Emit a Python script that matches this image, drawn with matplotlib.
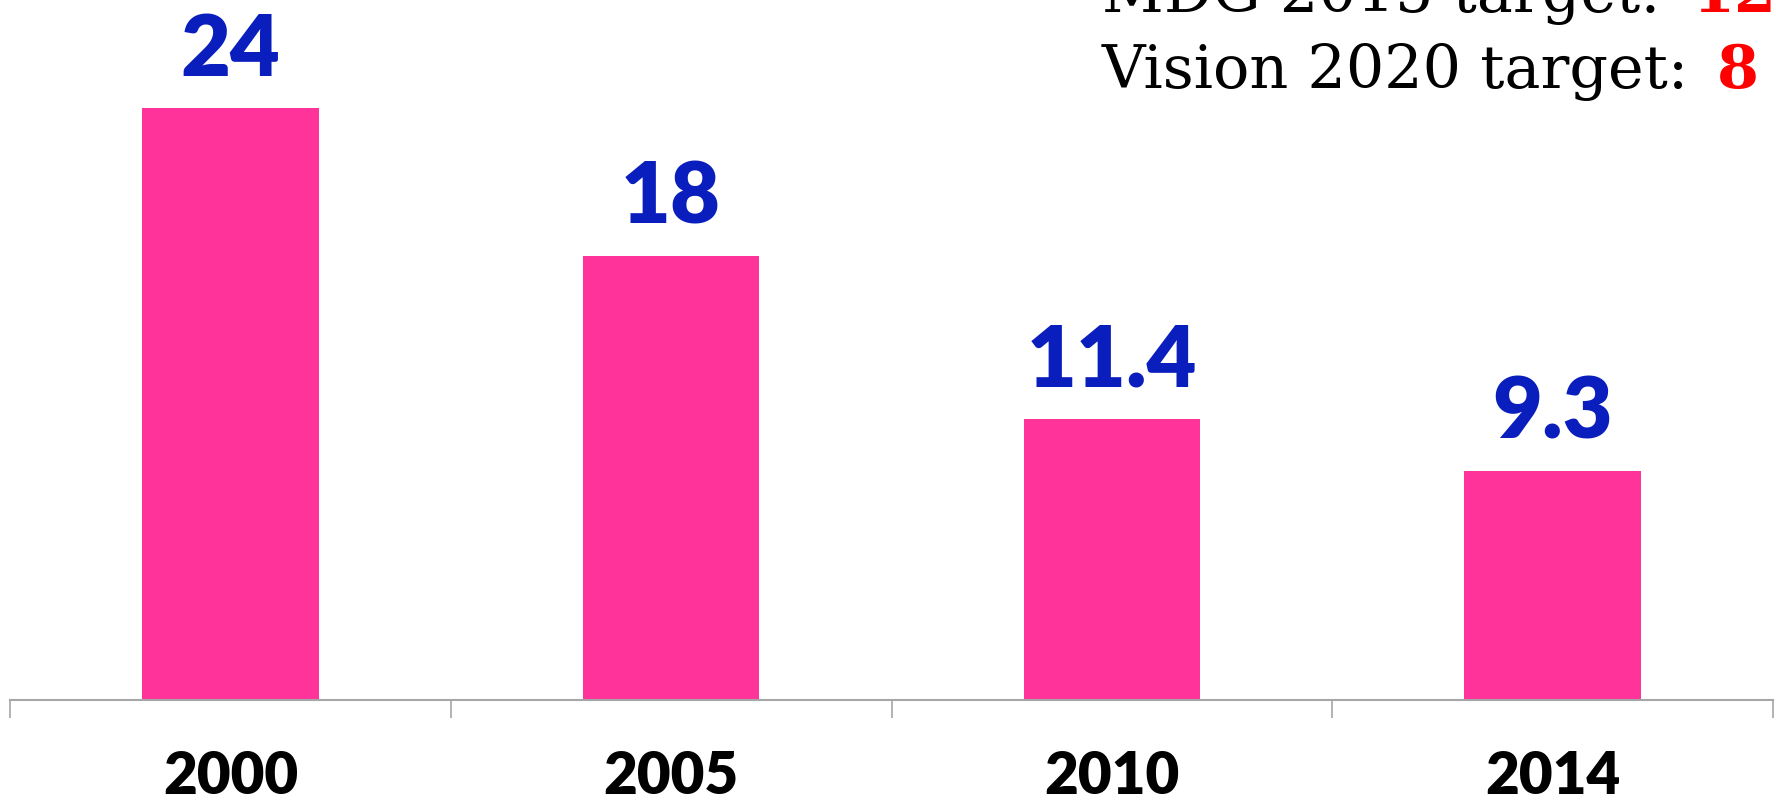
import matplotlib
matplotlib.use("Agg")
import matplotlib.pyplot as plt
from matplotlib.transforms import blended_transform_factory

# values
years = ['2000', '2005', '2010', '2014']
values = [24, 18, 11.4, 9.3]
value_labels = ['24', '18', '11.4', '9.3']
mdg_target = '12.5'
vision_target = '8'

W, H = 1776, 801
fig = plt.figure(figsize=(W / 100, H / 100), dpi=100)
# axis line sits ~700px from the top, plot area runs to the top edge
ax = fig.add_axes([10 / W, (H - 700) / H, (1773 - 10) / W, 700 / H])

x = range(len(years))
ax.bar(x, values, width=0.4, color='#FF3399', zorder=2)
ax.set_xlim(-0.5, len(years) - 0.5)
ax.set_ylim(0, 28.37)

for s in ['top', 'right', 'left']:
    ax.spines[s].set_visible(False)
ax.spines['bottom'].set_color('#A6A6A6')
ax.spines['bottom'].set_linewidth(1.5)
ax.set_yticks([])
# category boundary ticks
ax.set_xticks([i - 0.5 for i in range(len(years) + 1)])
ax.set_xticklabels([])
ax.tick_params(axis='x', direction='out', length=13, width=1.2, color='#A6A6A6')

# value labels above bars
for i, v in enumerate(values):
    ax.annotate(value_labels[i], xy=(i, v), xytext=(0, 23), textcoords='offset points',
                ha='center', va='baseline', fontsize=62, fontweight='heavy',
                family=['Lato', 'DejaVu Sans'], color='#0A1EBE')

# year labels under the axis
trans = blended_transform_factory(ax.transData, ax.transAxes)
for i, yr in enumerate(years):
    ax.annotate(yr, xy=(i, 0), xycoords=trans, xytext=(0, -55), textcoords='offset points',
                ha='center', va='center', fontsize=42, fontweight='heavy',
                family=['Lato', 'DejaVu Sans'], color='black')

# target text in the top right corner
serif = ['DejaVu Serif']
fig.text(1102 / W, 1 - 12 / H, 'MDG 2015 target:', fontsize=43.5, family=serif,
         color='black', ha='left', va='baseline')
fig.text(1693 / W, 1 - 12 / H, mdg_target, fontsize=43.5, family=serif, fontweight='bold',
         color='#FF0000', ha='left', va='baseline')
fig.text(1102 / W, 1 - 88 / H, 'Vision 2020 target:', fontsize=43.5, family=serif,
         color='black', ha='left', va='baseline')
fig.text(1717 / W, 1 - 88 / H, vision_target, fontsize=43.5, family=serif, fontweight='bold',
         color='#FF0000', ha='left', va='baseline')

fig.savefig('out.png', dpi=100)
